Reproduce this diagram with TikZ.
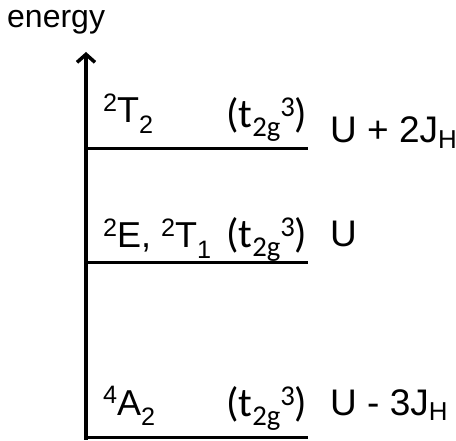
\documentclass[tikz,border=0pt]{standalone}
\usepackage{fontspec}
\setmainfont{Liberation Sans}
\newfontfamily\calfont{Carlito}
\usetikzlibrary{arrows.meta}

\newcommand{\dn}[2][0.3em]{\raisebox{-#1}{\scalebox{0.7}{#2}}}
\newcommand{\up}[2][0.33em]{\raisebox{#1}{\scalebox{0.7}{#2}}}

\begin{document}
\begin{tikzpicture}[x=1pt, y=-1pt,
    level/.style={line width=3pt},
    term/.style={anchor=base west, inner sep=0pt, font=\fontsize{36}{42}\selectfont},
    config/.style={anchor=base west, inner sep=0pt, font=\calfont\fontsize{41}{48}\selectfont},
    gap/.style={anchor=base west, inner sep=0pt, font=\fontsize{37}{44}\selectfont}]
    \useasboundingbox (0,0) rectangle (456,441);

    % Axis
    \coordinate (origin) at (86,439.5);
    \coordinate (top) at (86,52);
    \draw[line width=3.5pt, -{Straight Barb[length=8pt, width=18pt]}] (origin) -- (top);
    \node[anchor=base west, inner sep=0pt, font=\fontsize{32}{38}\selectfont] (energy) at (7,28) {energy};

    % Levels
    \coordinate (a2l) at (84.5,437.5);
    \coordinate (a2r) at (308,437.5);
    \coordinate (el) at (86,263);
    \coordinate (er) at (308,263);
    \coordinate (t2l) at (86,148.5);
    \coordinate (t2r) at (308,148.5);
    \draw[level] (a2l) -- (a2r);
    \draw[level] (el) -- (er);
    \draw[level] (t2l) -- (t2r);

    % Terms
    \node[term] (t2term) at (103,123) {\up{2}T\dn{2}};
    \node[term] (eterm) at (103,248) {\up{2}E, \up{2}T\dn{1}};
    \node[term] (a2term) at (103,415) {\up{4}A\dn{2}};

    % Configurations
    \node[config] (t2conf) at (226,128) {(t\dn[0.2em]{2g}\up[0.27em]{3})};
    \node[config] (econf) at (226,248) {(t\dn[0.2em]{2g}\up[0.27em]{3})};
    \node[config] (a2conf) at (226,417) {(t\dn[0.2em]{2g}\up[0.27em]{3})};

    % Energies
    \node[gap] (t2gap) at (330,143) {U + 2J\dn[0.14em]{H}};
    \node[gap] (egap) at (330,247) {U};
    \node[gap] (a2gap) at (330,415) {U - 3J\dn[0.14em]{H}};
\end{tikzpicture}
\end{document}
